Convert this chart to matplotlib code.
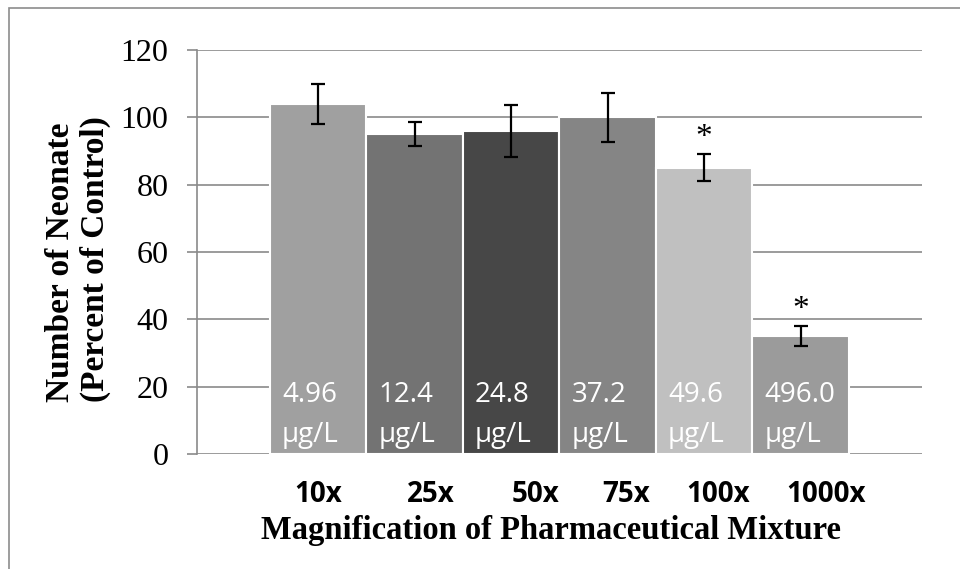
import matplotlib
matplotlib.use('Agg')
import matplotlib.pyplot as plt
from matplotlib.patches import Rectangle

# дані з графіка
groups = ['10x', '25x', '50x', '75x', '100x', '1000x']
neonates = [104, 95, 96, 100, 85, 35]
errors = [6.0, 3.6, 7.7, 7.3, 4.0, 2.9]
conc = ['4.96', '12.4', '24.8', '37.2', '49.6', '496.0']
signif = [False, False, False, False, True, True]
colors = ['#a0a0a0', '#737373', '#474747', '#858585', '#c0c0c0', '#9b9b9b']
# позиції підписів осі X (зсунуті, як у текстовому полі Excel)
label_x = [0.0, 1.17, 2.25, 3.19, 4.14, 5.26]

grid_c = '#8a8a8a'
serif = 'Liberation Serif'
sans = 'Open Sans'

fig = plt.figure(figsize=(9.6, 5.69), dpi=100)
ax = fig.add_axes([197 / 960, 1 - 454 / 569, 725 / 960, 404 / 569])

x = list(range(len(groups)))
ax.bar(x, neonates, width=1.0, color=colors, edgecolor='white', linewidth=1.5, zorder=3)
ax.errorbar(x, neonates, yerr=errors, fmt='none', ecolor='black', elinewidth=1.6,
            capsize=5, capthick=1.6, zorder=4)

# концентрації всередині стовпців
for i, c in enumerate(conc):
    left = i - 0.5 + 0.125
    ax.text(left, 15.4, c, color='white', fontsize=20, family=sans,
            ha='left', va='baseline', zorder=5)
    ax.text(left, 3.6, 'µg/L', color='white', fontsize=20, family=sans,
            ha='left', va='baseline', zorder=5)

# зірочки значущості
for i, s in enumerate(signif):
    if s:
        ax.text(i, neonates[i] + errors[i] + 5.0, '*', fontsize=24, family=serif,
                ha='center', va='center', zorder=5)

ax.set_xlim(-1.256, 6.257)
ax.set_ylim(0, 120)
ax.set_yticks(range(0, 121, 20))
ax.yaxis.grid(True, color=grid_c, linewidth=1.2, zorder=0)
ax.set_axisbelow(True)
for s in ['top', 'right', 'bottom']:
    ax.spines[s].set_visible(False)
ax.spines['left'].set_color(grid_c)
ax.spines['left'].set_linewidth(1.2)
ax.tick_params(axis='y', length=7.5, width=1.2, color=grid_c, pad=13, labelsize=23)
for t in ax.get_yticklabels():
    t.set_family(serif)

ax.set_xticks(label_x, groups)
ax.tick_params(axis='x', length=0, pad=19)
for t in ax.get_xticklabels():
    t.set_family(sans)
    t.set_fontweight('bold')
    t.set_fontsize(20)

fig.text(551 / 960, 1 - 530 / 569, 'Magnification of Pharmaceutical Mixture',
         family=serif, fontweight='bold', fontsize=23.5, ha='center', va='center')
fig.text(78 / 960, 1 - 259 / 569, 'Number of Neonate\n(Percent of Control)',
         family=serif, fontweight='bold', fontsize=24, ha='center', va='center',
         rotation=90, multialignment='left', linespacing=1.15)

# рамка діаграми (видно лише ліву та верхню сторони)
fig.add_artist(Rectangle((9 / 960, -0.2), 1.5, 1.2 - 8 / 569, transform=fig.transFigure,
                         fill=False, edgecolor='#8c8c8c', linewidth=1.2))

fig.savefig('out.png', dpi=100)
